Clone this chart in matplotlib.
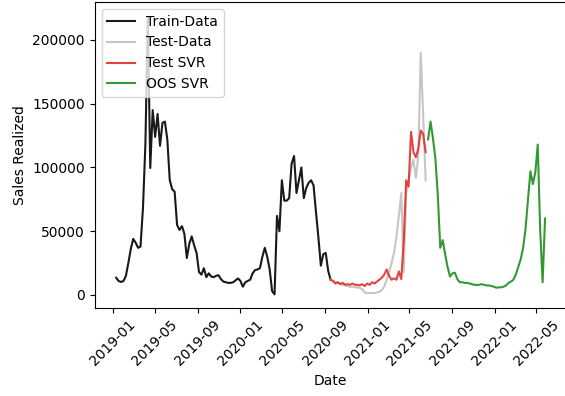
import matplotlib
matplotlib.use('Agg')
import matplotlib.pyplot as plt
import matplotlib.dates as mdates
import numpy as np
import pandas as pd

# weekly sales, training part
train_sales = [13500, 11000, 10200, 11000, 15000, 25000, 36000, 44000, 41000, 37000,
               38000, 68000, 118000, 218000, 99600, 145000, 124000, 142000, 117000, 135000,
               136000, 122000, 90000, 83000, 81000, 55000, 51000, 54000, 48000, 29000,
               40000, 46000, 39000, 33000, 18000, 16000, 21000, 14000, 17000, 14500,
               14000, 15000, 15500, 12500, 10500, 10000, 9500, 9500, 10000, 11500,
               13000, 11000, 6500, 10000, 11000, 12000, 17000, 19500, 20000, 21000,
               30000, 37000, 30000, 20000, 3000, 500, 62000, 50000, 90000, 74000,
               74000, 76000, 103000, 109000, 80000, 90000, 100000, 76000, 84000, 88000,
               90000, 86000, 65000, 45000, 23000, 32000, 33000, 19000, 12000]

# held out test weeks and the SVR prediction on them
test_sales = [11000, 10000, 9500, 9000, 8000, 7500, 7000, 6500, 6500, 6000,
              6000, 5500, 4500, 2000, 1500, 1500, 1500, 1500, 2000, 2500,
              4000, 6500, 12000, 18000, 25000, 33000, 45000, 62000, 80000, 18000,
              80000, 90000, 100000, 106000, 92000, 110000, 190000, 140000, 90000]
test_svr = [11000, 9000, 10000, 8500, 9500, 8000, 8500, 8000, 9000, 8000,
            8000, 7500, 8500, 7000, 9000, 8000, 10000, 9000, 10500, 12000,
            13500, 16000, 20000, 15000, 12000, 13000, 12000, 18500, 12500, 42000,
            90000, 85000, 128000, 112000, 108000, 115000, 129000, 126000, 112000]

# out of sample forecast
oos_svr = [122000, 136000, 123000, 107000, 78000, 37000, 43000, 32000, 22000, 14500,
           17000, 17500, 12500, 10000, 10000, 9500, 9500, 9000, 8500, 8000,
           7800, 8000, 8500, 8000, 7500, 7500, 7000, 6500, 5700, 6000,
           6000, 6500, 7500, 9500, 10500, 12000, 16000, 22000, 28000, 37000,
           52000, 75000, 97000, 87000, 96000, 118000, 51000, 10000, 60000]

n_train, n_test, n_oos = len(train_sales), len(test_sales), len(oos_svr)
dates = pd.date_range('2019-01-10', periods=n_train + n_test + n_oos, freq='7D')
train_dates = dates[:n_train]
test_dates = dates[n_train:n_train + n_test]
oos_dates = dates[n_train + n_test:]

# join the test curves onto the last training week
test_x = np.concatenate([train_dates[-1:], test_dates])
test_y = [train_sales[-1]] + test_sales
svr_y = [train_sales[-1]] + test_svr

fig = plt.figure(figsize=(5.65, 3.96), dpi=100)
ax = fig.add_axes([94.7 / 565, 88 / 396, 471.8 / 565, 306 / 396])

ax.plot(train_dates, train_sales, color='black', alpha=0.9, lw=1.5, label='Train-Data')
ax.plot(test_x, test_y, color='silver', alpha=0.9, lw=1.5, label='Test-Data')
ax.plot(test_x, svr_y, color='#e0302a', alpha=0.9, lw=1.5, label='Test SVR')
ax.plot(oos_dates, oos_svr, color='green', alpha=0.8, lw=1.5, label='OOS SVR')

ax.set_ylim(-10200, 229800)
ax.xaxis.set_major_locator(mdates.MonthLocator(bymonth=[1, 5, 9]))
ax.xaxis.set_major_formatter(mdates.DateFormatter('%Y-%m'))
plt.setp(ax.get_xticklabels(), rotation=45)
ax.set_xlabel('Date')
ax.set_ylabel('Sales Realized')
ax.legend(loc='upper left')

fig.savefig('out.png', dpi=100)
